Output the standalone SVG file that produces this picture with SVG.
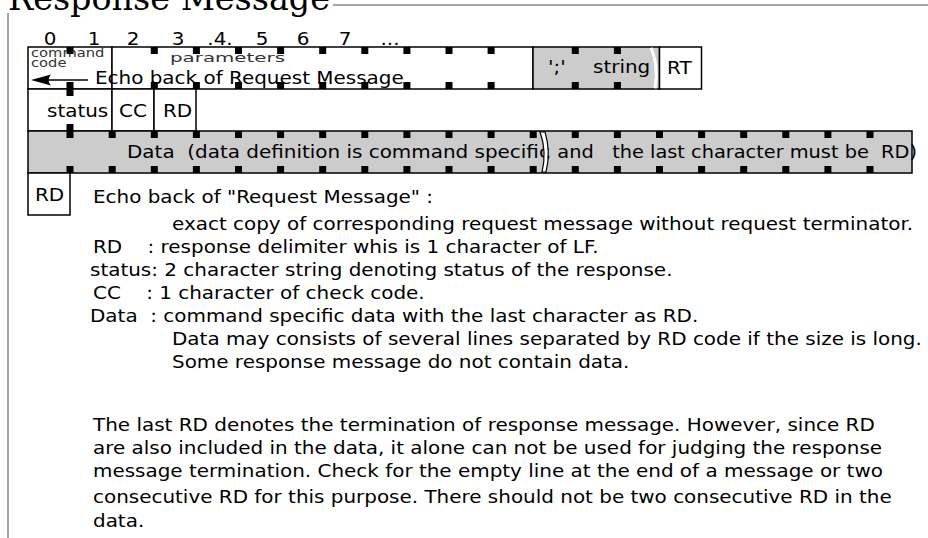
<svg xmlns="http://www.w3.org/2000/svg" xmlns:xlink="http://www.w3.org/1999/xlink" width="928" height="538" viewBox="0 0 928 538">
<style>
.frame{fill:none;stroke:#a6a6a6;stroke-width:2}
.box{fill:#fff;stroke:#000;stroke-width:1.5}
.gbox{fill:#ccc;stroke:#000;stroke-width:1.5}
.t{font-family:"DejaVu Sans","Liberation Sans",sans-serif;font-size:17.5px;fill:#000}
.s{font-family:"DejaVu Sans","Liberation Sans",sans-serif;font-size:11.5px;fill:#333}
.title{font-family:"DejaVu Serif","Liberation Serif",serif;font-size:33px;fill:#000}
.mk{fill:#000}
.pre{white-space:pre}
</style>
<defs>
<rect id="mk" class="mk" width="7" height="7"/>
</defs>
<g id="frame">
<path class="frame" d="M8,538 V5 H928"/>
<rect x="7" y="0" width="326" height="13" fill="#fff"/>
<text class="title" x="8" y="10" textLength="322" lengthAdjust="spacingAndGlyphs">Response Message</text>
</g>
<g id="index">
<g class="t" text-anchor="middle">
<text transform="translate(50,45) scale(1.14 1)">0</text>
<text transform="translate(94,45) scale(1.14 1)">1</text>
<text transform="translate(133,45) scale(1.14 1)">2</text>
<text transform="translate(178,45) scale(1.14 1)">3</text>
<text transform="translate(220,45) scale(1.14 1)">.4.</text>
<text transform="translate(262,45) scale(1.14 1)">5</text>
<text transform="translate(303,45) scale(1.14 1)">6</text>
<text transform="translate(345,45) scale(1.14 1)">7</text>
<text transform="translate(390,45) scale(1.14 1)">...</text>
</g>
</g>
<g id="row1">
<g id="command-code">
<rect class="box" x="28" y="47" width="84" height="42"/>
<text class="s" transform="translate(31,57) scale(1.28 1)">command</text>
<text class="s" transform="translate(31,67) scale(1.28 1)">code</text>
</g>
<g id="parameters">
<rect class="box" x="112" y="47" width="421" height="42"/>
<text class="s" x="170" y="62" fill="#444" textLength="115" lengthAdjust="spacingAndGlyphs">parameters</text>
</g>
<g id="string">
<rect class="gbox" x="533" y="47" width="126.5" height="42"/>
<text class="t" transform="translate(548,73) scale(1.14 1)">';'</text>
<text class="t" transform="translate(593,73) scale(1.14 1)">string</text>
<path d="M651,47.8 Q659,66 655,88.2" fill="none" stroke="#fff" stroke-width="3"/>
</g>
<g id="rt">
<rect class="box" x="659.5" y="47" width="42" height="42"/>
<text class="t" transform="translate(667,74) scale(1.14 1)">RT</text>
</g>
</g>
<g id="connectors">
<line x1="46" y1="80" x2="88" y2="80" stroke="#000" stroke-width="1.5"/>
<path d="M31,80 L51,74.5 Q46,80 51,85.5 Z" fill="#000"/>
</g>
<g id="echo-label">
<text class="t" transform="translate(95,84) scale(1.14 1)">Echo back of Request Message</text>
</g>
<g id="row2">
<g id="status"><rect class="box" x="28" y="89" width="84" height="42"/><text class="t" transform="translate(47,117) scale(1.14 1)">status</text></g>
<g id="cc"><rect class="box" x="112" y="89" width="42" height="42"/><text class="t" transform="translate(119,117) scale(1.14 1)">CC</text></g>
<g id="rd1"><rect class="box" x="154" y="89" width="42" height="42"/><text class="t" transform="translate(163,117) scale(1.14 1)">RD</text></g>
</g>
<g id="data">
<rect class="gbox" x="28" y="131" width="884" height="42"/>
<text class="t pre" xml:space="preserve" transform="translate(127,158) scale(1.14 1)">Data  (data definition is command specific</text>
<text class="t pre" xml:space="preserve" text-anchor="end" transform="translate(917,158) scale(1.105 1)">, and   the last character must be  RD)</text>
<path d="M540,131.8 Q547,152 542,172.2 L546,172.2 Q551,152 545,131.8 Z" fill="#fff" stroke="#000" stroke-width="1.2"/>
</g>
<g id="rd2">
<rect class="box" x="28" y="173" width="42" height="42"/>
<text class="t" transform="translate(35,201) scale(1.14 1)">RD</text>
</g>
<g id="markers">
<use xlink:href="#mk" x="66.5" y="47"/><use xlink:href="#mk" x="150.8" y="47"/><use xlink:href="#mk" x="192.9" y="47"/><use xlink:href="#mk" x="235" y="47"/><use xlink:href="#mk" x="277.1" y="47"/><use xlink:href="#mk" x="319.2" y="47"/><use xlink:href="#mk" x="361.3" y="47"/><use xlink:href="#mk" x="403.4" y="47"/><use xlink:href="#mk" x="445.5" y="47"/><use xlink:href="#mk" x="487.6" y="47"/><use xlink:href="#mk" x="571.8" y="47"/><use xlink:href="#mk" x="613.9" y="47"/>
<use xlink:href="#mk" x="66.5" y="82"/><use xlink:href="#mk" x="150.8" y="82"/><use xlink:href="#mk" x="192.9" y="82"/><use xlink:href="#mk" x="235" y="82"/><use xlink:href="#mk" x="277.1" y="82"/><use xlink:href="#mk" x="319.2" y="82"/><use xlink:href="#mk" x="361.3" y="82"/><use xlink:href="#mk" x="403.4" y="82"/><use xlink:href="#mk" x="445.5" y="82"/><use xlink:href="#mk" x="487.6" y="82"/><use xlink:href="#mk" x="571.8" y="82"/><use xlink:href="#mk" x="613.9" y="82"/>
<use xlink:href="#mk" x="66.5" y="89"/><use xlink:href="#mk" x="66.5" y="124"/>
<use xlink:href="#mk" x="66.5" y="131"/><use xlink:href="#mk" x="108.7" y="131"/><use xlink:href="#mk" x="150.8" y="131"/><use xlink:href="#mk" x="192.9" y="131"/><use xlink:href="#mk" x="235" y="131"/><use xlink:href="#mk" x="277.1" y="131"/><use xlink:href="#mk" x="319.2" y="131"/><use xlink:href="#mk" x="361.3" y="131"/><use xlink:href="#mk" x="403.4" y="131"/><use xlink:href="#mk" x="445.5" y="131"/><use xlink:href="#mk" x="487.6" y="131"/><use xlink:href="#mk" x="529.7" y="131"/><use xlink:href="#mk" x="571.8" y="131"/><use xlink:href="#mk" x="613.9" y="131"/><use xlink:href="#mk" x="656" y="131"/><use xlink:href="#mk" x="698.1" y="131"/><use xlink:href="#mk" x="740.2" y="131"/><use xlink:href="#mk" x="782.3" y="131"/><use xlink:href="#mk" x="824.4" y="131"/><use xlink:href="#mk" x="866.5" y="131"/>
<use xlink:href="#mk" x="66.5" y="166"/><use xlink:href="#mk" x="108.7" y="166"/><use xlink:href="#mk" x="150.8" y="166"/><use xlink:href="#mk" x="192.9" y="166"/><use xlink:href="#mk" x="235" y="166"/><use xlink:href="#mk" x="277.1" y="166"/><use xlink:href="#mk" x="319.2" y="166"/><use xlink:href="#mk" x="361.3" y="166"/><use xlink:href="#mk" x="403.4" y="166"/><use xlink:href="#mk" x="445.5" y="166"/><use xlink:href="#mk" x="487.6" y="166"/><use xlink:href="#mk" x="529.7" y="166"/><use xlink:href="#mk" x="571.8" y="166"/><use xlink:href="#mk" x="613.9" y="166"/><use xlink:href="#mk" x="656" y="166"/><use xlink:href="#mk" x="698.1" y="166"/><use xlink:href="#mk" x="740.2" y="166"/><use xlink:href="#mk" x="782.3" y="166"/><use xlink:href="#mk" x="824.4" y="166"/><use xlink:href="#mk" x="866.5" y="166"/>
</g>
<g id="notes" class="t">
<text class="pre" xml:space="preserve" transform="translate(93,203) scale(1.14 1)">Echo back of "Request Message" :</text>
<text class="pre" xml:space="preserve" transform="translate(172,230) scale(1.14 1)">exact copy of corresponding request message without request terminator.</text>
<text class="pre" xml:space="preserve" transform="translate(93,253) scale(1.14 1)">RD    : response delimiter whis is 1 character of LF.</text>
<text class="pre" xml:space="preserve" transform="translate(90,276) scale(1.14 1)">status: 2 character string denoting status of the response.</text>
<text class="pre" xml:space="preserve" transform="translate(93,299) scale(1.14 1)">CC    : 1 character of check code.</text>
<text class="pre" xml:space="preserve" transform="translate(90,322) scale(1.14 1)">Data  : command specific data with the last character as RD.</text>
<text class="pre" xml:space="preserve" transform="translate(172,345) scale(1.14 1)">Data may consists of several lines separated by RD code if the size is long.</text>
<text class="pre" xml:space="preserve" transform="translate(172,368) scale(1.14 1)">Some response message do not contain data.</text>
<text transform="translate(93,431) scale(1.14 1)">The last RD denotes the termination of response message. However, since RD</text>
<text transform="translate(93,454) scale(1.14 1)">are also included in the data, it alone can not be used for judging the response</text>
<text transform="translate(93,477) scale(1.14 1)">message termination. Check for the empty line at the end of a message or two</text>
<text transform="translate(93,503) scale(1.14 1)">consecutive RD for this purpose. There should not be two consecutive RD in the</text>
<text transform="translate(93,527) scale(1.14 1)">data.</text>
</g>
</svg>
